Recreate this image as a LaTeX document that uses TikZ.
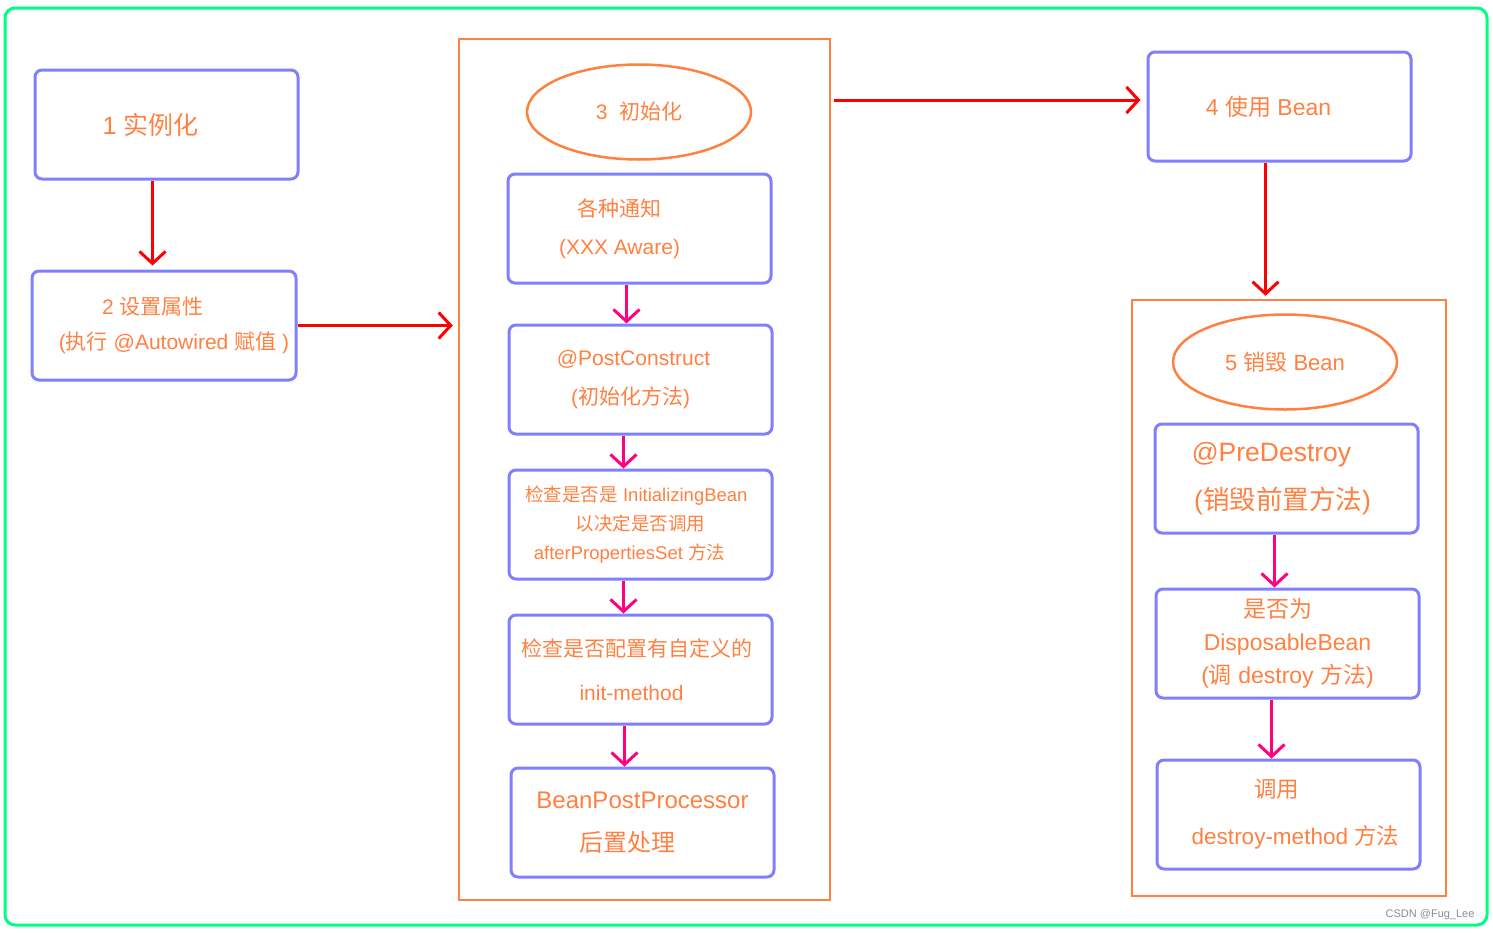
\documentclass[tikz,border=0pt]{standalone}
\usepackage{fontspec}
\setmainfont{Liberation Sans}
\newfontfamily\zhfont{Noto Sans CJK SC}
\newcommand{\zh}[1]{{\zhfont #1}}
\newcommand{\nudge}[1]{\hspace*{#1}}
\usepackage{xcolor}
\usepackage{tikz}
\usetikzlibrary{arrows.meta, shapes.geometric}

\definecolor{boxblue}{RGB}{128,128,255}
\definecolor{txtorange}{RGB}{255,128,64}
\definecolor{framegreen}{RGB}{0,255,128}
\definecolor{arrowred}{RGB}{255,0,0}
\definecolor{arrowpink}{RGB}{255,0,128}

\begin{document}
\begin{tikzpicture}[x=1pt, y=-1pt,
    stepbox/.style={rectangle, draw=boxblue, line width=3pt, rounded corners=7pt, minimum width=263pt, minimum height=109pt, text=txtorange, align=center, inner sep=0pt},
    stage/.style={ellipse, draw=txtorange, line width=2.5pt, minimum width=224pt, minimum height=95pt, text=txtorange, inner sep=0pt},
    group/.style={rectangle, draw=txtorange, line width=2.5pt, inner sep=0pt},
    flow/.style={-{Straight Barb[length=12pt,width=26pt]}, draw=arrowred, line width=3pt},
    subflow/.style={-{Straight Barb[length=12pt,width=26pt]}, draw=arrowpink, line width=3pt}]
    \useasboundingbox (0,0) rectangle (1493,932);
    \draw[framegreen, line width=3pt, rounded corners=10pt] (5,8) rectangle (1487,925);

    \node[stepbox, font=\fontsize{25}{30}\selectfont] (inst) at (166.5,124.5) {1 \zh{实例化}\nudge{32pt}};
    \node[stepbox, font=\fontsize{21}{35}\selectfont, minimum width=264pt] (props) at (164,325.5) {2 \zh{设置属性}\nudge{22pt}\\\nudge{20pt}(\zh{执行} @Autowired \zh{赋值} )};

    \node[group, minimum width=371pt, minimum height=861pt] (init) at (644.5,469.5) {};
    \node[stage, font=\fontsize{21}{25}\selectfont] (initlbl) at (639,112) {3\ \ \zh{初始化}};
    \node[stepbox, font=\fontsize{21}{38}\selectfont] (aware) at (639.5,228.5) {\zh{各种通知}\nudge{40pt}\\(XXX Aware)\nudge{40pt}};
    \node[stepbox, font=\fontsize{21}{39}\selectfont] (post) at (640.5,379.5) {@PostConstruct\nudge{14pt}\\(\zh{初始化方法})\nudge{20pt}};
    \node[stepbox, font=\fontsize{18.5}{29}\selectfont] (initbean) at (640.5,524.5) {\zh{检查是否是} InitializingBean\nudge{8pt}\\\zh{以决定是否调用}\nudge{20pt}\\afterPropertiesSet \zh{方法}\nudge{22pt}};
    \node[stepbox, font=\fontsize{21}{44}\selectfont] (initmeth) at (640.5,669.5) {\zh{检查是否配置有自定义的}\nudge{8pt}\\init-method\nudge{18pt}};
    \node[stepbox, font=\fontsize{24}{43}\selectfont] (bpp) at (642.5,822.5) {BeanPostProcessor\\\zh{后置处理}\nudge{30pt}};

    \node[stepbox, font=\fontsize{23}{28}\selectfont] (use) at (1279.5,106.5) {4 \zh{使用} Bean\nudge{22pt}};

    \node[group, minimum width=314pt, minimum height=596pt] (destroy) at (1289,598) {};
    \node[stage, font=\fontsize{22}{26}\selectfont] (destroylbl) at (1285,362) {5 \zh{销毁} Bean};
    \node[stepbox, font=\fontsize{26.5}{48}\selectfont] (pre) at (1286.5,478.5) {@PreDestroy\nudge{30pt}\\(\zh{销毁前置方法})\nudge{8pt}};
    \node[stepbox, font=\fontsize{23}{33}\selectfont] (disp) at (1287.5,643.5) {\zh{是否为}\nudge{20pt}\\DisposableBean\\(\zh{调} destroy \zh{方法})};
    \node[stepbox, font=\fontsize{22.5}{47}\selectfont] (dmeth) at (1288.5,814.5) {\zh{调用}\nudge{24pt}\\\nudge{14pt}destroy-method \zh{方法}};

    \node[anchor=east, text=black!45, font=\fontsize{11}{13}\selectfont] (mark) at (1478,915) {CSDN @Fug\_Lee};

    \draw[flow, shorten >=4pt] ([xshift=-14pt]inst.south) -- ([xshift=-14pt]inst.south |- props.north);
    \draw[flow, shorten >=5pt] (props.east) -- (init.west |- props.east);
    \draw[flow, shorten <=3pt, shorten >=6pt] (init.east |- 0,100) -- (use.west |- 0,100);
    \draw[flow, shorten >=3pt] ([xshift=-14pt]use.south) -- ([xshift=-14pt]use.south |- destroy.north);

    \draw[subflow] ([xshift=-13pt]aware.south) -- ([xshift=-13pt]aware.south |- post.north);
    \draw[subflow] ([xshift=-17pt]post.south) -- ([xshift=-17pt]post.south |- initbean.north);
    \draw[subflow] ([xshift=-17pt]initbean.south) -- ([xshift=-17pt]initbean.south |- initmeth.north);
    \draw[subflow] ([xshift=-16pt]initmeth.south) -- ([xshift=-16pt]initmeth.south |- bpp.north);
    \draw[subflow] ([xshift=-12pt]pre.south) -- ([xshift=-12pt]pre.south |- disp.north);
    \draw[subflow] ([xshift=-16pt]disp.south) -- ([xshift=-16pt]disp.south |- dmeth.north);
\end{tikzpicture}
\end{document}
